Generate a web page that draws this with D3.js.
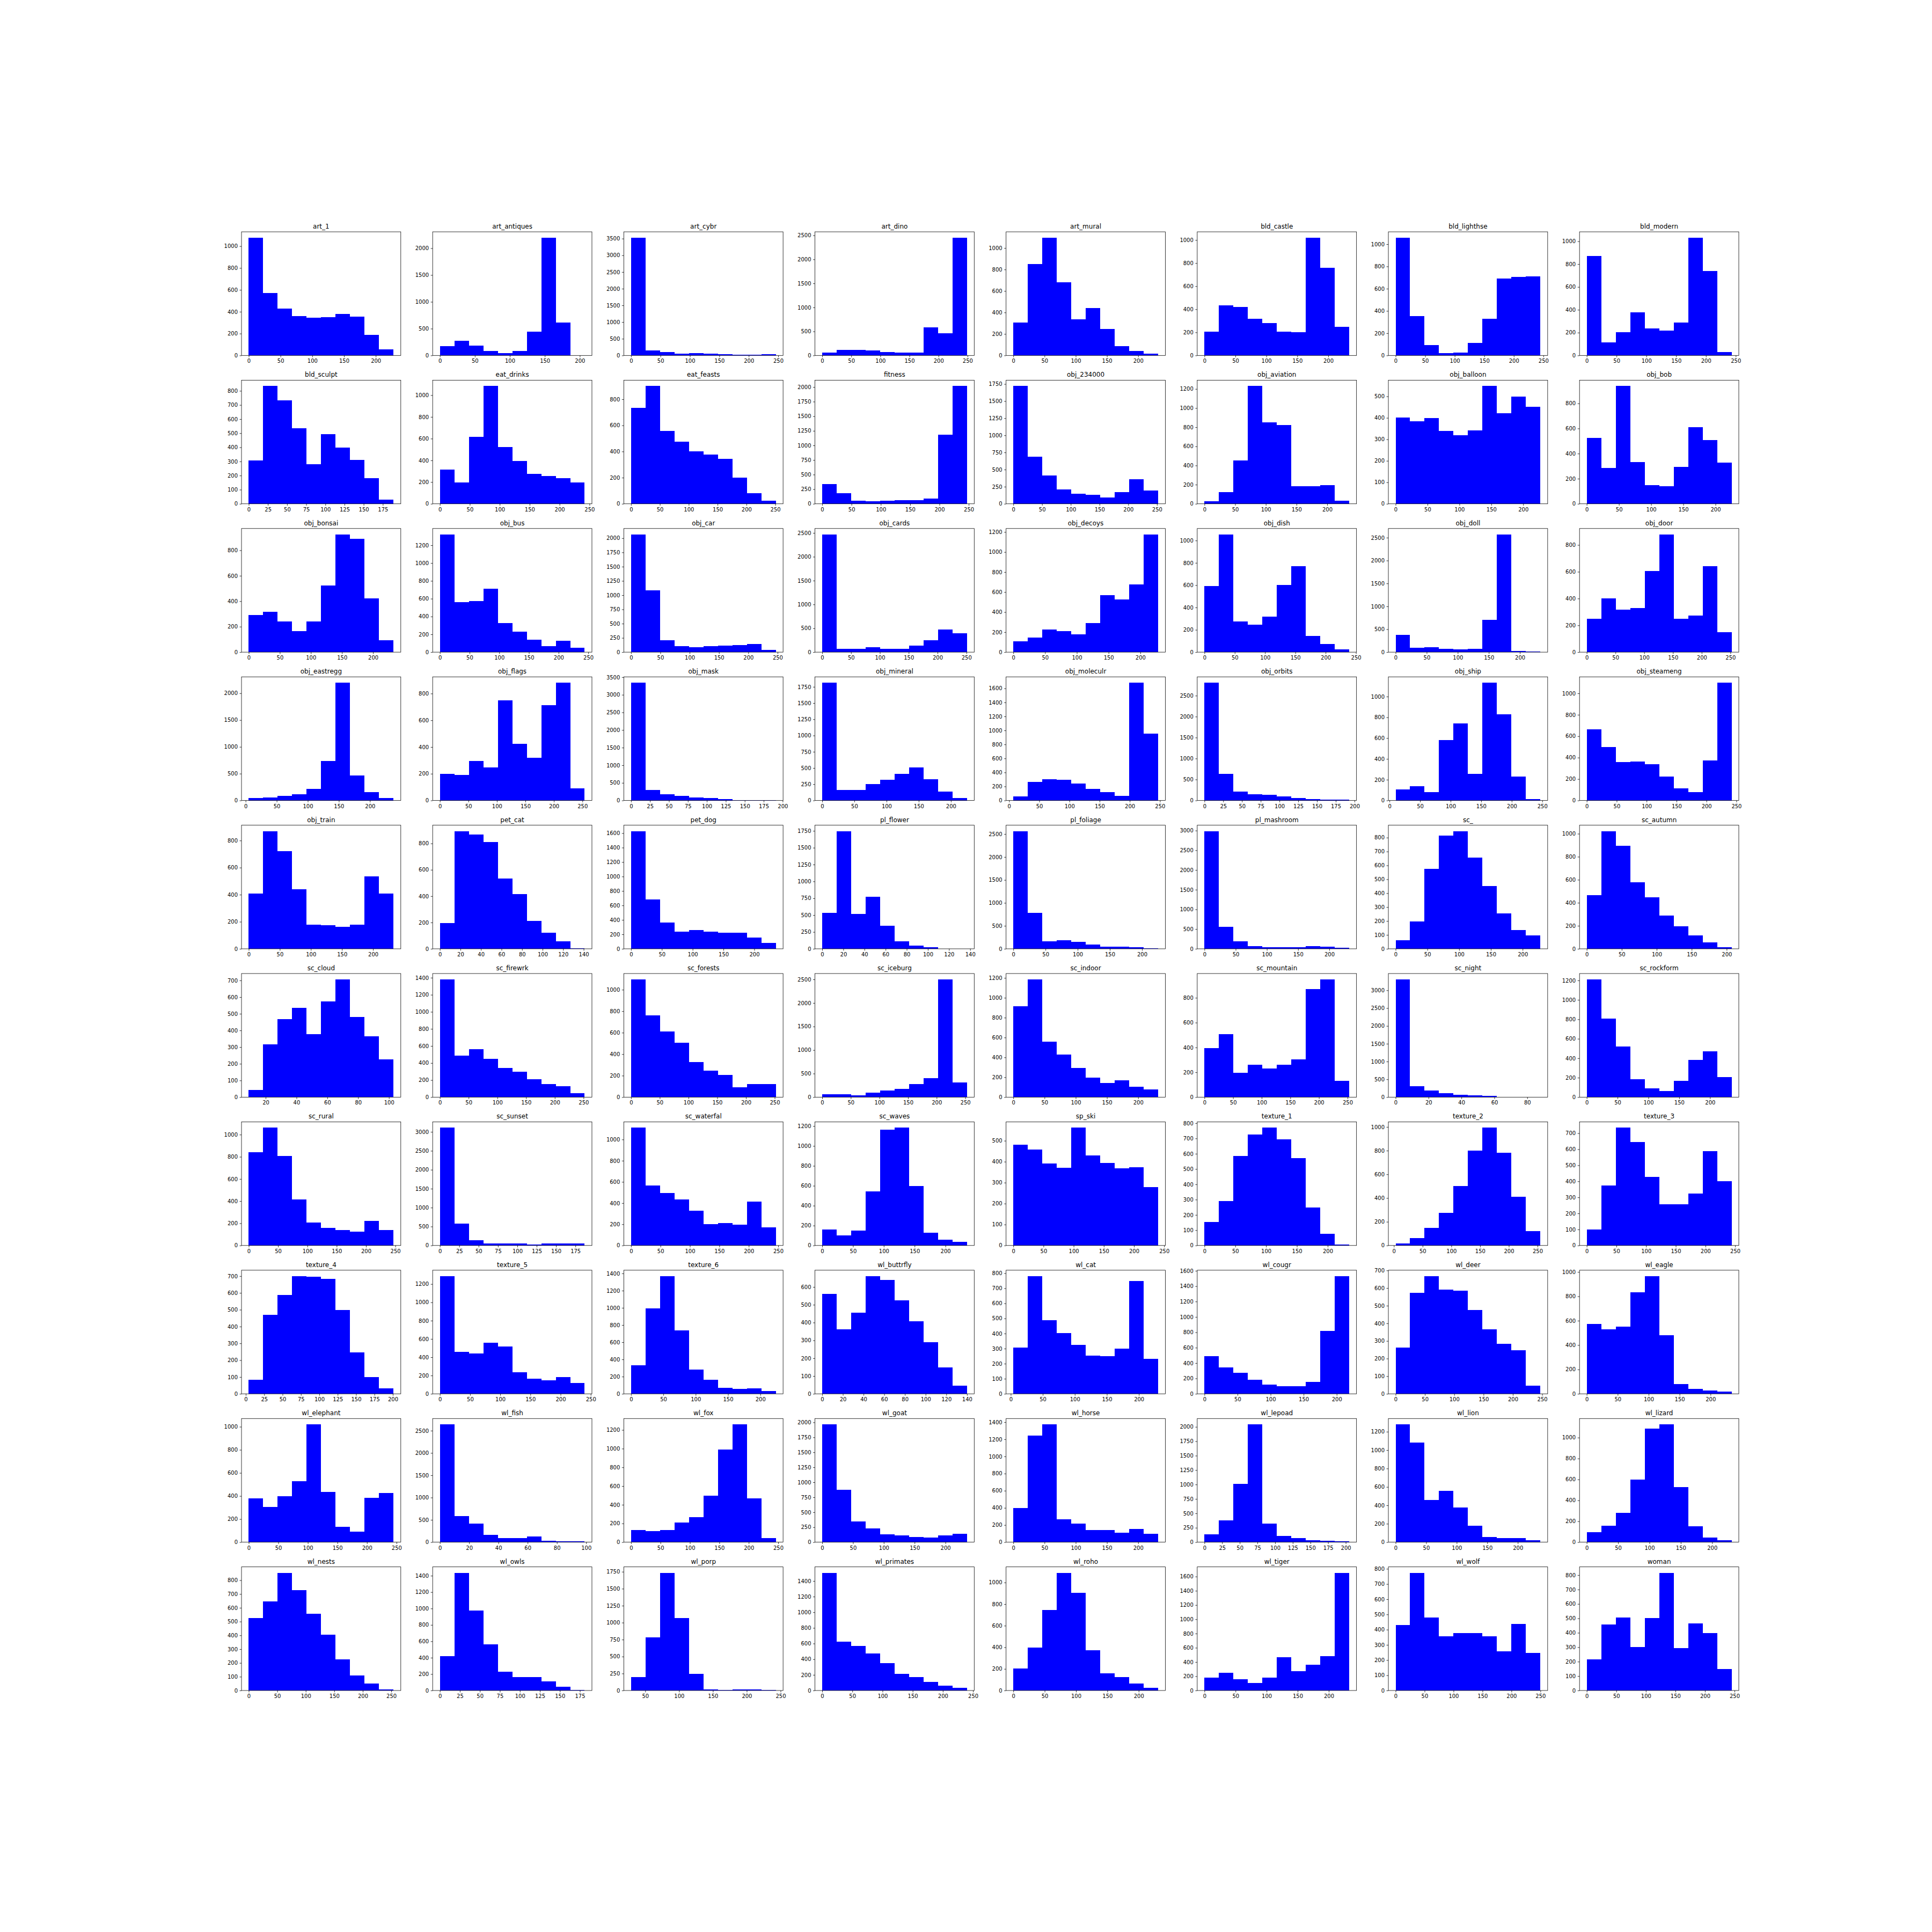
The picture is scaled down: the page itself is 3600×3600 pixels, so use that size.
<!DOCTYPE html>
<html><head><meta charset="utf-8">
<script src="https://cdn.jsdelivr.net/npm/d3@7"></script>
<style>body{margin:0;background:#fff}</style>
</head><body>
<svg id="chart" width="3600" height="3600"></svg>
<script>
const titles = [
"art_1","art_antiques","art_cybr","art_dino","art_mural","bld_castle","bld_lighthse","bld_modern",
"bld_sculpt","eat_drinks","eat_feasts","fitness","obj_234000","obj_aviation","obj_balloon","obj_bob",
"obj_bonsai","obj_bus","obj_car","obj_cards","obj_decoys","obj_dish","obj_doll","obj_door",
"obj_eastregg","obj_flags","obj_mask","obj_mineral","obj_moleculr","obj_orbits","obj_ship","obj_steameng",
"obj_train","pet_cat","pet_dog","pl_flower","pl_foliage","pl_mashroom","sc_","sc_autumn",
"sc_cloud","sc_firewrk","sc_forests","sc_iceburg","sc_indoor","sc_mountain","sc_night","sc_rockform",
"sc_rural","sc_sunset","sc_waterfal","sc_waves","sp_ski","texture_1","texture_2","texture_3",
"texture_4","texture_5","texture_6","wl_buttrfly","wl_cat","wl_cougr","wl_deer","wl_eagle",
"wl_elephant","wl_fish","wl_fox","wl_goat","wl_horse","wl_lepoad","wl_lion","wl_lizard",
"wl_nests","wl_owls","wl_porp","wl_primates","wl_roho","wl_tiger","wl_wolf","woman"];

// lower and upper edge of the 10 histogram bins
const binMin = [
0,0,0,0,0,0,0,0,
0,0,0,0,0,0,0,0,
0,0,0,0,0,0,0,0,
5,0,0,0,7,0,10,0,
0,0,0,0,0,0,0,0,
9,0,0,0,0,0,0,0,
0,0,0,0,0,0,3,0,
4,0,0,0,4,0,0,0,
0,0,0,0,0,0,0,0,
0,0,29,0,0,0,0,0];
const binMax = [
228,207,246,249,232,234,245,243,
189,242,251,247,252,236,227,225,
233,244,247,251,228,239,233,252,
238,254,191,225,247,193,247,242,
233,141,235,137,225,232,228,207,
103,252,252,253,232,253,88,235,
247,187,246,235,240,235,255,244,
201,240,224,140,230,219,247,234,
245,99,246,235,232,205,237,231,
254,181,243,240,231,233,250,245];

const counts = [
[1077,571,429,360,345,350,380,355,188,56],
[170,275,181,82,44,82,445,2196,615,3],
[3527,150,100,55,75,60,35,18,18,35],
[55,116,116,104,74,61,61,582,460,2451],
[307,849,1096,679,334,441,247,85,41,19],
[207,434,418,316,281,207,202,1020,758,247],
[1058,352,93,21,24,111,328,690,706,709],
[871,113,206,376,235,219,286,1031,740,28],
[307,834,732,534,279,493,399,312,183,31],
[316,197,615,1084,522,392,276,257,238,197],
[735,901,557,474,402,377,344,202,83,25],
[342,186,55,45,55,65,65,86,1182,2017],
[1720,690,416,206,150,133,94,167,360,197],
[28,120,454,1230,853,822,184,181,196,34],
[402,384,399,339,320,342,548,421,500,451],
[526,285,938,332,150,140,295,611,508,330],
[291,317,241,164,241,523,925,890,421,92],
[1322,562,575,711,324,231,142,69,126,50],
[2066,1085,207,103,83,103,114,124,139,36],
[2469,74,74,99,74,74,136,247,475,395],
[109,147,226,209,176,291,568,526,676,1176],
[591,1055,274,245,317,602,770,145,74,24],
[379,96,109,77,64,77,700,2571,26,13],
[250,400,319,330,604,879,251,273,642,147],
[49,60,82,120,219,739,2196,471,153,44],
[200,191,297,246,749,422,321,714,881,92],
[3342,292,183,125,92,67,33,15,12,12],
[1813,163,158,249,321,407,506,330,140,41],
[55,264,306,294,239,168,122,63,1681,952],
[2808,637,217,154,133,91,63,28,14,14],
[105,136,82,582,743,254,1133,831,232,11],
[666,501,356,364,340,222,115,79,375,1099],
[410,870,722,440,179,174,164,179,537,410],
[195,894,867,809,533,417,213,121,56,4],
[1629,686,363,241,257,237,224,224,155,82],
[530,1747,521,770,346,114,48,26,2,1],
[2564,784,167,186,154,96,45,45,32,13],
[2987,561,195,67,37,45,37,67,52,30],
[62,195,577,815,847,658,450,255,136,98],
[467,1023,895,579,449,290,197,118,56,15],
[43,317,468,537,378,573,706,482,365,227],
[1380,489,565,447,340,298,211,156,128,45],
[1096,760,612,507,325,248,207,94,124,124],
[57,57,44,94,144,170,276,408,2500,308],
[917,1185,560,429,292,199,143,167,104,80],
[395,507,195,262,231,260,302,871,948,133],
[3306,307,183,116,66,58,41,2,1,1],
[1210,808,520,182,88,61,167,383,471,207],
[842,1062,805,416,207,159,140,124,222,140],
[3109,581,140,54,47,47,31,47,47,47],
[1111,565,493,435,327,202,213,194,413,169],
[159,100,150,546,1162,1183,599,127,59,38],
[480,457,391,371,562,429,394,368,373,279],
[152,290,585,727,770,693,570,250,77,8],
[17,64,149,275,502,800,993,782,411,121],
[101,374,734,645,429,258,258,324,588,401],
[82,470,588,700,695,684,498,246,98,32],
[1287,458,439,561,516,235,168,145,181,119],
[333,995,1369,738,281,161,72,58,65,34],
[561,363,455,661,639,525,407,290,149,45],
[307,781,489,403,325,252,250,299,748,231],
[491,345,272,184,123,96,96,157,821,1531],
[262,574,668,591,584,477,366,285,247,45],
[574,530,550,835,966,482,80,39,27,17],
[379,305,399,529,1020,435,132,92,384,427],
[2640,583,415,168,97,97,123,32,19,19],
[132,119,132,210,270,496,992,1259,471,41],
[1966,877,343,230,132,113,88,74,113,142],
[401,1240,1373,267,216,140,140,113,154,99],
[132,382,1013,2042,326,112,71,36,20,15],
[1279,1081,459,558,376,179,57,45,45,22],
[95,157,281,596,1084,1126,528,154,45,20],
[524,648,854,727,558,403,224,110,51,9],
[422,1436,973,561,230,164,164,111,46,9],
[198,784,1735,1069,245,18,11,18,18,11],
[1505,625,570,474,350,213,172,110,64,37],
[206,398,743,1090,906,373,161,126,66,27],
[184,252,161,108,184,464,274,360,481,1653],
[432,774,481,358,379,379,358,256,436,247],
[214,456,507,303,501,816,292,466,399,147]];

// spacing between tick labels on each axis
const xTickStep = [
50,50,50,50,50,50,50,50,
25,50,50,50,50,50,50,50,
50,50,50,50,50,50,50,50,
50,50,25,50,50,25,50,50,
50,20,50,20,50,50,50,50,
20,50,50,50,50,50,20,50,
50,25,50,50,50,50,50,50,
25,50,50,20,50,50,50,50,
50,20,50,50,50,25,50,50,
50,25,50,50,50,50,50,50];
const yTickStep = [
200,500,500,500,200,200,200,200,
100,200,200,250,250,200,100,200,
200,200,250,500,200,200,500,200,
500,200,500,250,200,500,200,200,
200,200,200,250,500,500,100,200,
100,200,200,500,200,200,500,200,
200,500,200,200,100,100,200,100,
100,200,200,100,100,200,100,200,
200,500,200,250,200,250,200,200,
100,200,250,200,200,200,100,100];

const W = 3600, H = 3600;
const figLeft = 450, figRight = 3240, figTop = 432, figBottom = 3150;
const nCols = 8, nRows = 10, wsp = 0.2, hsp = 0.2;
const axW = (figRight - figLeft) / (nCols + (nCols - 1) * wsp);
const axH = (figBottom - figTop) / (nRows + (nRows - 1) * hsp);
const FONT = "'DejaVu Sans', sans-serif";

const svg = d3.select("#chart");
svg.append("rect").attr("width", W).attr("height", H).attr("fill", "#ffffff");

titles.forEach((title, i) => {
  const r = Math.floor(i / nCols), c = i % nCols;
  const x0 = figLeft + c * axW * (1 + wsp);
  const y0 = figTop + r * axH * (1 + hsp);
  const g = svg.append("g").attr("transform", `translate(${x0},${y0})`);

  const lo = binMin[i], hi = binMax[i], span = hi - lo;
  const d0 = lo - 0.05 * span, d1 = hi + 0.05 * span;
  const x = d3.scaleLinear().domain([d0, d1]).range([0, axW]);
  const ymax = d3.max(counts[i]) * 1.05;
  const y = d3.scaleLinear().domain([0, ymax]).range([axH, 0]);

  const bw = span / counts[i].length;
  const bins = counts[i].map((v, k) => ({ a: lo + k * bw, b: lo + (k + 1) * bw, v }));

  g.selectAll("rect.bar").data(bins).join("rect")
    .attr("class", "bar")
    .attr("x", d => x(d.a))
    .attr("width", d => x(d.b) - x(d.a))
    .attr("y", d => y(d.v))
    .attr("height", d => axH - y(d.v))
    .attr("fill", "#0000ff")
    .attr("shape-rendering", "crispEdges");

  const xs = xTickStep[i];
  const xt = d3.range(Math.ceil(d0 / xs) * xs, d1 + 1e-9, xs).map(v => v + 0);
  const ys = yTickStep[i];
  const yt = d3.range(0, ymax + 1e-9, ys);

  const xa = g.append("g").attr("transform", `translate(0,${axH})`)
    .call(d3.axisBottom(x).tickValues(xt).tickSizeInner(3.5).tickSizeOuter(0)
      .tickPadding(3.5).tickFormat(d => String(Math.round(d))));
  const ya = g.append("g")
    .call(d3.axisLeft(y).tickValues(yt).tickSizeInner(3.5).tickSizeOuter(0)
      .tickPadding(3.5).tickFormat(d => String(Math.round(d))));
  [xa, ya].forEach(a => {
    a.attr("font-family", FONT).attr("font-size", 10);
    a.select(".domain").remove();
    a.selectAll(".tick line").attr("stroke", "#000").attr("stroke-width", 0.8);
    a.selectAll(".tick text").attr("fill", "#000");
  });

  g.append("rect").attr("x", 0).attr("y", 0).attr("width", axW).attr("height", axH)
    .attr("fill", "none").attr("stroke", "#000").attr("stroke-width", 0.8);

  g.append("text").attr("x", axW / 2).attr("y", -6)
    .attr("text-anchor", "middle").attr("font-family", FONT).attr("font-size", 12)
    .attr("fill", "#000").text(title);
});
</script>
</body></html>
